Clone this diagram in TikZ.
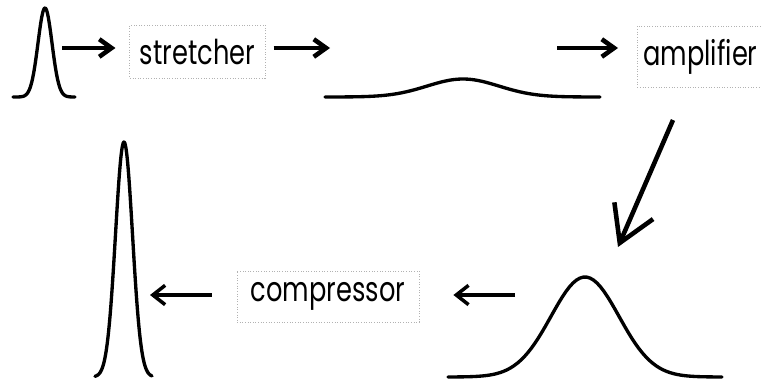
\documentclass[tikz,border=0pt]{standalone}
\usepackage{fontspec}
\setmainfont[FakeStretch=0.75]{Poppins}
\usetikzlibrary{arrows.meta}

\begin{document}
\begin{tikzpicture}[x=0.02cm,y=-0.02cm,
    box/.style={draw=gray!60, densely dotted, line width=0.5pt, inner xsep=0.2cm,
                font=\fontsize{19.5}{22}\selectfont},
    pulse/.style={line width=1.9pt, line cap=round, line join=round},
    arr/.style={line width=2.6pt, -{Straight Barb[length=7pt,width=10pt]}},
    arrl/.style={line width=2pt, -{Straight Barb[length=7pt,width=11pt]}}]
\useasboundingbox (0,0) rectangle (761,379);

% boxes
\node[box, minimum width=2.62cm, minimum height=1.06cm] (stretch) at (197.5,51.5) {stretcher};
\node[box, anchor=west, minimum height=1.22cm, inner xsep=0.12cm] (amp) at (637,56.5) {amplifier};
\node[box, minimum width=3.64cm, minimum height=1.02cm] (comp) at (328,296.5) {compressor};

% pulses
\draw[pulse] plot[domain=-32:30, samples=80] ({45+\x},{97-89*exp(-0.5*(\x/7)^2)});
\draw[pulse] plot[domain=-138:137, samples=80] ({463+\x},{97-18*exp(-0.5*(\x/36)^2)});
\draw[pulse] plot[domain=-137:137, samples=80] ({585+\x},{377-100*exp(-0.5*(\x/34)^2)});
\draw[pulse] plot[domain=-29:28, samples=80] ({124+\x},{377-235*exp(-0.5*(\x/8.5)^2)});

% free ends of the arrows
\coordinate (pin) at (62,48);
\coordinate (pwide) at (330,48);
\coordinate (pwout) at (557,48);
\coordinate (dtop) at (673,120);
\coordinate (dbot) at (618,247);
\coordinate (pbig) at (515,295);
\coordinate (pout) at (150,295);

\draw[arr, shorten >=0.28cm] (pin) -- (pin -| stretch.west);
\draw[arr, shorten <=0.16cm] (pwide -| stretch.east) -- (pwide);
\draw[arr, shorten >=0.38cm] (pwout) -- (pwout -| amp.west);
\draw[line width=2.6pt, -{Straight Barb[length=20pt,width=24pt]}] (dtop) -- (dbot);
\draw[arrl, shorten >=0.68cm] (pbig) -- (pbig -| comp.east);
\draw[arrl, shorten <=0.5cm] (pout -| comp.west) -- (pout);
\end{tikzpicture}
\end{document}
